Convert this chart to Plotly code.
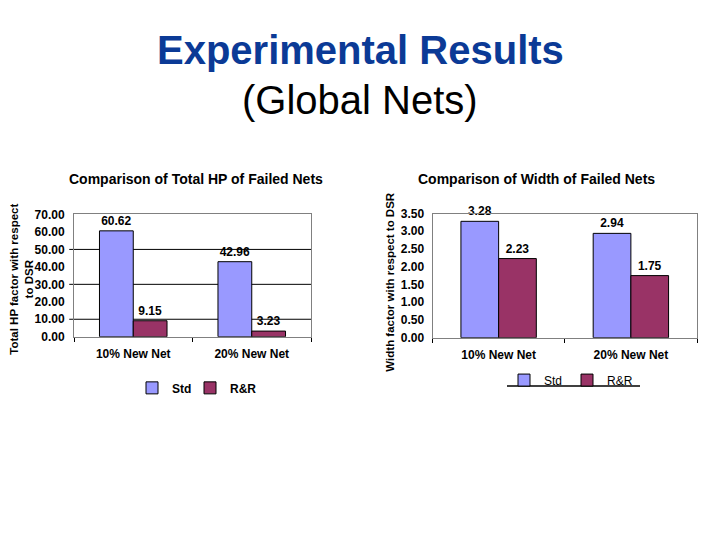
import plotly.graph_objects as go

categories = ["10% New Net", "20% New Net"]
hp_std = [60.62, 42.96]
hp_rr = [9.15, 3.23]
width_std = [3.28, 2.94]
width_rr = [2.23, 1.75]
hp_ticks = [0, 10, 20, 30, 40, 50, 60, 70]
hp_gridlines = [10, 30, 50]
width_ticks = [0, 0.5, 1.0, 1.5, 2.0, 2.5, 3.0, 3.5]

STD_COLOR = "#9999FF"
RR_COLOR = "#993366"
FONT = "Arial, Liberation Sans, sans-serif"

W, H = 720, 540

def px(x):
    return x / W

def py(y):
    return 1 - y / H

fig = go.Figure()

def add_bars(xa, ya, std, rr, leg_std, leg_rr):
    fig.add_trace(go.Bar(
        x=categories, y=std, name="Std", xaxis=xa, yaxis=ya,
        marker=dict(color=STD_COLOR, line=dict(color="black", width=1)),
        texttemplate="%{y:.2f}", textposition="outside", cliponaxis=False,
        textfont=dict(family=FONT, size=12, color="black", weight="bold"),
        legend=leg_std,
    ))
    fig.add_trace(go.Bar(
        x=categories, y=rr, name="R&R", xaxis=xa, yaxis=ya,
        marker=dict(color=RR_COLOR, line=dict(color="black", width=1)),
        texttemplate="%{y:.2f}", textposition="outside", cliponaxis=False,
        textfont=dict(family=FONT, size=12, color="black", weight="bold"),
        legend=leg_rr,
    ))

add_bars("x", "y", hp_std, hp_rr, "legend", "legend3")
add_bars("x2", "y2", width_std, width_rr, "legend2", "legend4")

tickfont = dict(family=FONT, size=12, color="black", weight="bold")
catfont = dict(family=FONT, size=12, color="black", weight="bold")

xaxis_common = dict(
    type="category", showline=True, linecolor="#808080", linewidth=1, mirror=True,
    ticks="outside", tickson="boundaries", ticklen=4, tickcolor="black",
    tickfont=catfont, showgrid=False, ticklabelstandoff=6,
)

def legend_at(x, y, weight):
    return dict(orientation="h", x=px(x), y=py(y), xanchor="left", yanchor="middle",
                font=dict(family=FONT, size=12, color="black", weight=weight),
                bgcolor="rgba(0,0,0,0)")

fig.update_layout(
    width=W, height=H, margin=dict(l=0, r=0, t=0, b=0),
    paper_bgcolor="white", plot_bgcolor="white",
    barmode="group", bargap=0.43, bargroupgap=0,
    font=dict(family=FONT, color="black"),
    xaxis=dict(domain=[px(74), px(311)], anchor="y", **xaxis_common),
    yaxis=dict(domain=[py(338.5), py(213)], anchor="x", range=[0, 70],
               tickvals=hp_ticks, tickformat=".2f", tickfont=tickfont,
               showgrid=False, zeroline=False, showline=True, linecolor="#808080",
               mirror=True, ticks="", ticklabelstandoff=6),
    xaxis2=dict(domain=[px(432.5), px(697)], anchor="y2", **xaxis_common),
    yaxis2=dict(domain=[py(339.5), py(212)], anchor="x2", range=[0, 3.5],
                tickvals=width_ticks, tickformat=".2f", tickfont=tickfont,
                showgrid=False, zeroline=False, showline=True, linecolor="#808080",
                mirror=True, ticks="", ticklabelstandoff=5),
    legend=legend_at(132, 391, "bold"),
    legend3=legend_at(190, 391, "bold"),
    legend2=legend_at(504, 383, "normal"),
    legend4=legend_at(567, 383, "normal"),
    showlegend=True,
)

# black horizontal gridlines on left chart
for g in hp_gridlines:
    fig.add_shape(type="line", xref="x domain", yref="y", x0=-0.02, x1=1, y0=g, y1=g,
                  line=dict(color="black", width=1), layer="below")

# underline beneath right legend
fig.add_shape(type="line", xref="paper", yref="paper", x0=px(507), x1=px(640),
              y0=py(389), y1=py(389), line=dict(color="black", width=1.5))

annotations = [
    dict(text="<b>Experimental Results</b>", x=0.5, y=py(44), font=dict(size=40, color="#0B3A96", family=FONT)),
    dict(text="(Global Nets)", x=0.5, y=py(95), font=dict(size=40, color="black", family=FONT)),
    dict(text="<b>Comparison of Total HP of Failed Nets</b>", x=px(196), y=py(177),
         font=dict(size=14, color="black", family=FONT)),
    dict(text="<b>Comparison of Width of Failed Nets</b>", x=px(536), y=py(177),
         font=dict(size=14, color="black", family=FONT)),
    dict(text="<b>Total HP factor with respect<br>to DSR</b>", x=px(22), y=py(280), textangle=-90,
         font=dict(size=11.5, color="black", family=FONT)),
    dict(text="<b>Width factor with respect to DSR</b>", x=px(390), y=py(283), textangle=-90,
         font=dict(size=11.5, color="black", family=FONT)),
]
for a in annotations:
    fig.add_annotation(xref="paper", yref="paper", showarrow=False,
                       xanchor="center", yanchor="middle", **a)

fig.write_html("out.html")
